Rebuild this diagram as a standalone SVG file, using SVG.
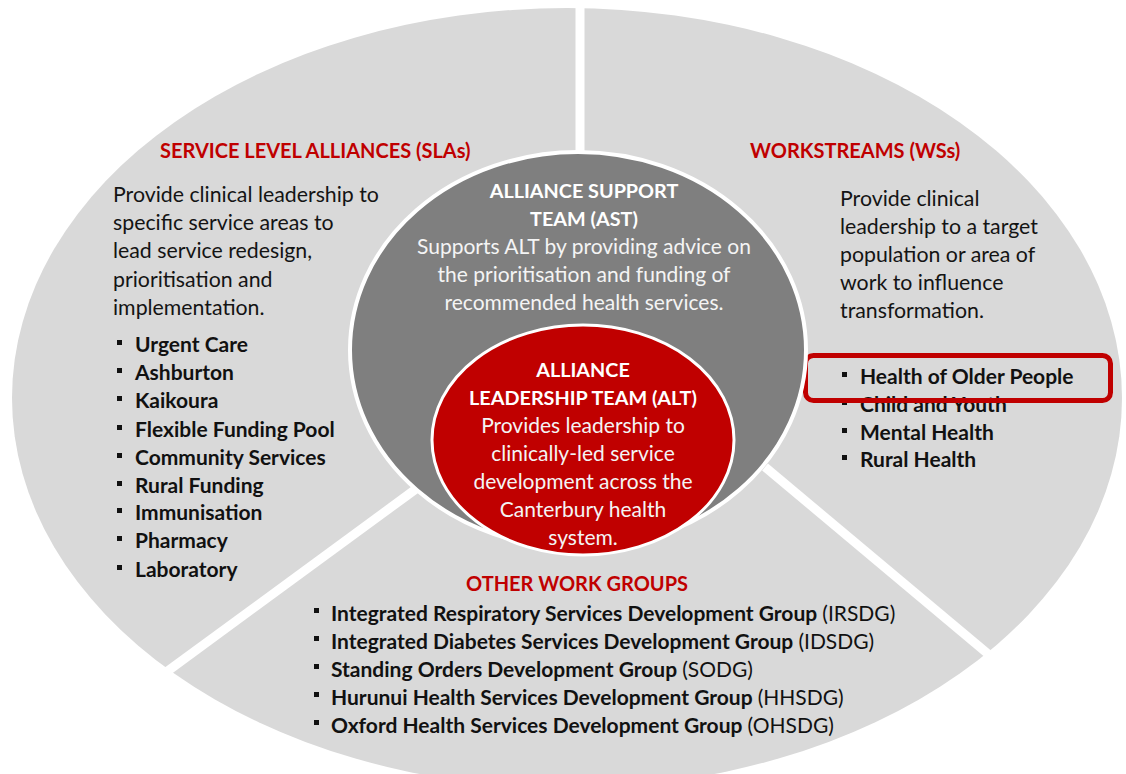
<svg xmlns="http://www.w3.org/2000/svg" width="1126" height="774" viewBox="0 0 1126 774">
  <defs>
    <style>
      text { font-family: Lato, "Open Sans", "Liberation Sans", sans-serif; }
      .head { font-size: 20px; font-weight: 700; fill: #c00000; }
      .desc { font-size: 21.3px; fill: #141414; }
      .item { font-size: 21px; font-weight: 700; fill: #111111; }
      .abbr { font-weight: 400; }
      .ctr { text-anchor: middle; }
      .whead { font-size: 19.8px; font-weight: 700; fill: #ffffff; }
      .wbody { font-size: 21px; fill: #f4f4f4; }
      .bullet { fill: #111111; }
      .divider { stroke: #ffffff; stroke-width: 9; stroke-linecap: butt; }
    </style>
  </defs>

  <rect width="1126" height="774" fill="#ffffff"/>

  <!-- outer ring, split into three sectors -->
  <ellipse id="ring" cx="567" cy="398" rx="555" ry="390" fill="#d9d9d9"/>

  <g id="connectors">
    <line class="divider" x1="580" y1="0" x2="580" y2="170"/>
    <line class="divider" x1="420" y1="486" x2="150" y2="684"/>
    <line class="divider" x1="765" y1="467" x2="1012" y2="674"/>
  </g>

  <!-- Service Level Alliances -->
  <g id="sla">
    <text class="head" x="160" y="158">SERVICE LEVEL ALLIANCES (SLAs)</text>
    <text class="desc" x="113" y="202">Provide clinical leadership to</text>
    <text class="desc" x="113" y="230">specific service areas to</text>
    <text class="desc" x="113" y="258">lead service redesign,</text>
    <text class="desc" x="113" y="287">prioritisation and</text>
    <text class="desc" x="113" y="315">implementation.</text>
    <g class="bullet">
      <rect x="117" y="340" width="5" height="5"/>
      <rect x="117" y="368" width="5" height="5"/>
      <rect x="117" y="396" width="5" height="5"/>
      <rect x="117" y="425" width="5" height="5"/>
      <rect x="117" y="453" width="5" height="5"/>
      <rect x="117" y="481" width="5" height="5"/>
      <rect x="117" y="508" width="5" height="5"/>
      <rect x="117" y="536" width="5" height="5"/>
      <rect x="117" y="565" width="5" height="5"/>
    </g>
    <text class="item" x="135" y="352">Urgent Care</text>
    <text class="item" x="135" y="380">Ashburton</text>
    <text class="item" x="135" y="408">Kaikoura</text>
    <text class="item" x="135" y="437">Flexible Funding Pool</text>
    <text class="item" x="135" y="465">Community Services</text>
    <text class="item" x="135" y="493">Rural Funding</text>
    <text class="item" x="135" y="520">Immunisation</text>
    <text class="item" x="135" y="548">Pharmacy</text>
    <text class="item" x="135" y="577">Laboratory</text>
  </g>

  <!-- Workstreams -->
  <g id="ws">
    <text class="head" x="750" y="158">WORKSTREAMS (WSs)</text>
    <text class="desc" x="840" y="206">Provide clinical</text>
    <text class="desc" x="840" y="234">leadership to a target</text>
    <text class="desc" x="840" y="262">population or area of</text>
    <text class="desc" x="840" y="290">work to influence</text>
    <text class="desc" x="840" y="318">transformation.</text>
    <g class="bullet">
      <rect x="842" y="372" width="5" height="5"/>
      <rect x="842" y="400" width="5" height="5"/>
      <rect x="842" y="428" width="5" height="5"/>
      <rect x="842" y="455" width="5" height="5"/>
    </g>
    <text class="item" x="860" y="384">Health of Older People</text>
    <text class="item" x="860" y="412">Child and Youth</text>
    <text class="item" x="860" y="440">Mental Health</text>
    <text class="item" x="860" y="467">Rural Health</text>
    <rect id="highlight" x="805.5" y="355.5" width="305" height="45" rx="8" fill="none" stroke="#c00000" stroke-width="5"/>
  </g>

  <!-- Other work groups -->
  <g id="owg">
    <text class="head ctr" x="577" y="591">OTHER WORK GROUPS</text>
    <g class="bullet">
      <rect x="314" y="608" width="5" height="5"/>
      <rect x="314" y="636" width="5" height="5"/>
      <rect x="314" y="664" width="5" height="5"/>
      <rect x="314" y="692" width="5" height="5"/>
      <rect x="314" y="720" width="5" height="5"/>
    </g>
    <text class="item" x="331" y="621">Integrated Respiratory Services Development Group <tspan class="abbr">(IRSDG)</tspan></text>
    <text class="item" x="331" y="649">Integrated Diabetes Services Development Group <tspan class="abbr">(IDSDG)</tspan></text>
    <text class="item" x="331" y="677">Standing Orders Development Group <tspan class="abbr">(SODG)</tspan></text>
    <text class="item" x="331" y="705">Hurunui Health Services Development Group <tspan class="abbr">(HHSDG)</tspan></text>
    <text class="item" x="331" y="733">Oxford Health Services Development Group <tspan class="abbr">(OHSDG)</tspan></text>
  </g>

  <!-- Alliance Support Team -->
  <g id="ast">
    <ellipse cx="578" cy="350" rx="228" ry="198" fill="#7f7f7f" stroke="#ffffff" stroke-width="4"/>
    <text class="whead ctr" x="584" y="198">ALLIANCE SUPPORT</text>
    <text class="whead ctr" x="584" y="226">TEAM (AST)</text>
    <text class="wbody ctr" x="584" y="254">Supports ALT by providing advice on</text>
    <text class="wbody ctr" x="584" y="282">the prioritisation and funding of</text>
    <text class="wbody ctr" x="584" y="310">recommended health services.</text>
  </g>

  <!-- Alliance Leadership Team -->
  <g id="alt">
    <ellipse cx="583" cy="440" rx="151" ry="115" fill="#c00000" stroke="#ffffff" stroke-width="3"/>
    <text class="whead ctr" x="583" y="377">ALLIANCE</text>
    <text class="whead ctr" x="583" y="405">LEADERSHIP TEAM (ALT)</text>
    <text class="wbody ctr" x="583" y="433">Provides leadership to</text>
    <text class="wbody ctr" x="583" y="461">clinically-led service</text>
    <text class="wbody ctr" x="583" y="489">development across the</text>
    <text class="wbody ctr" x="583" y="517">Canterbury health</text>
    <text class="wbody ctr" x="583" y="545">system.</text>
  </g>
</svg>
